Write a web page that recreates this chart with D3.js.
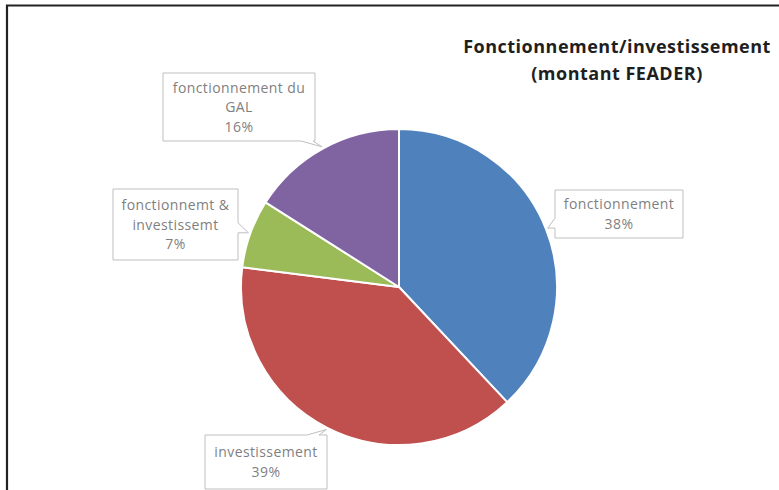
<!DOCTYPE html>
<html>
<head>
<meta charset="utf-8">
<script src="https://cdn.jsdelivr.net/npm/d3@7"></script>
<style>
  html, body { margin: 0; padding: 0; background: #fff; }
  svg { display: block; }
</style>
</head>
<body>
<svg id="chart" width="779" height="490"></svg>
<script>
// Répartition du montant FEADER
const categories = ["fonctionnement", "investissement", "fonctionnemt & investissemt", "fonctionnement du GAL"];
const labelLines = [["fonctionnement"], ["investissement"], ["fonctionnemt &", "investissemt"], ["fonctionnement du", "GAL"]];
const values = [38, 39, 7, 16];
const colors = ["#4f81bd", "#c0504d", "#9bbb59", "#8064a2"];
const titleLines = ["Fonctionnement/investissement", "(montant FEADER)"];

// Callout boxes: [x, y, width, height] and the side the pointer leaves from
const boxes = [
  { x: 555, y: 190, w: 128, h: 48, side: "left" },
  { x: 205, y: 435, w: 122, h: 54, side: "top" },
  { x: 113, y: 189, w: 125, h: 71, side: "right" },
  { x: 163, y: 73, w: 152, h: 68, side: "bottom" }
];

const svg = d3.select("#chart");
const W = 779, H = 490;
const cx = 399, cy = 287, R = 158;

// Frame (top and left edges)
svg.append("path")
  .attr("d", `M7,${H} V5.5 H${W}`)
  .attr("fill", "none")
  .attr("stroke", "#222")
  .attr("stroke-width", 2.2);

// Title
svg.append("text")
  .attr("x", 617).attr("y", 53)
  .attr("text-anchor", "middle")
  .attr("font-family", "Open Sans, sans-serif")
  .attr("font-weight", "bold")
  .attr("font-size", 18)
  .attr("letter-spacing", 0.5)
  .attr("fill", "#1f1f1f")
  .selectAll("tspan").data(titleLines).join("tspan")
  .attr("x", 617)
  .attr("dy", (d, i) => i === 0 ? 0 : 27)
  .text(d => d);

const total = d3.sum(values);
const pie = d3.pie().sort(null).value(d => d)(values);
const arc = d3.arc().innerRadius(0).outerRadius(R);

const g = svg.append("g").attr("transform", `translate(${cx},${cy})`);
g.selectAll("path.slice").data(pie).join("path")
  .attr("class", "slice")
  .attr("d", arc)
  .attr("fill", (d, i) => colors[i])
  .attr("stroke", "#fff")
  .attr("stroke-width", 2);

// Data callouts
pie.forEach((d, i) => {
  const b = boxes[i];
  const a = (d.startAngle + d.endAngle) / 2;
  const tip = [cx + (R + 2) * Math.sin(a), cy - (R + 2) * Math.cos(a)];
  const x0 = b.x, y0 = b.y, x1 = b.x + b.w, y1 = b.y + b.h;
  let p;
  if (b.side === "left") {
    const m = Math.min(Math.max(tip[1], y0 + 14), y1 - 4);
    p = `M${x0},${y0} H${x1} V${y1} H${x0} V${m} L${tip[0]},${tip[1]} L${x0},${m - 10} Z`;
  } else if (b.side === "right") {
    const m = Math.min(Math.max(tip[1], y0 + 14), y1 - 4);
    p = `M${x0},${y0} H${x1} V${m - 10} L${tip[0]},${tip[1]} L${x1},${m} V${y1} H${x0} Z`;
  } else if (b.side === "top") {
    p = `M${x0},${y0} H${x1 - 20} L${tip[0]},${tip[1]} L${x1 - 8},${y0} H${x1} V${y1} H${x0} Z`;
  } else {
    p = `M${x0},${y0} H${x1} V${y1} H${x1 - 2} L${tip[0]},${tip[1]} L${x1 - 14},${y1} H${x0} Z`;
  }
  svg.append("path")
    .attr("d", p)
    .attr("fill", "#fff")
    .attr("stroke", "#bfbfbf")
    .attr("stroke-width", 1);

  const lines = labelLines[i].concat([Math.round(d.data / total * 100) + "%"]);
  const lh = 19.5;
  const startY = y0 + b.h / 2 - (lines.length - 1) * lh / 2 + 5;
  svg.append("text")
    .attr("text-anchor", "middle")
    .attr("font-family", "Open Sans, sans-serif")
    .attr("font-size", 14)
    .attr("letter-spacing", 0.4)
    .attr("fill", "#7f7f7f")
    .selectAll("tspan").data(lines).join("tspan")
    .attr("x", x0 + b.w / 2)
    .attr("y", (t, j) => startY + j * lh)
    .text(t => t);
});
</script>
</body>
</html>
